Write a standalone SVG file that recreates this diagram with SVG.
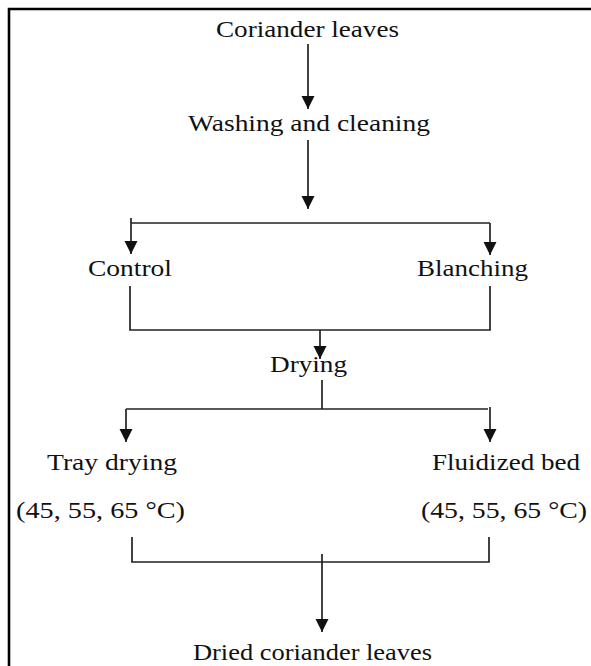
<svg xmlns="http://www.w3.org/2000/svg" width="591" height="666" viewBox="0 0 591 666">
<defs>
<marker id="ah" markerUnits="userSpaceOnUse" markerWidth="14" markerHeight="14" viewBox="0 0 14 14" refX="13" refY="7" orient="auto">
<path d="M0,0.5 L13,7 L0,13.5 Z" fill="#111"/>
</marker>
<style>
.t{font-family:"Liberation Serif","Times New Roman",serif;font-size:24px;fill:#111;}
.c{fill:none;stroke:#222;stroke-width:1.7;}
.a{fill:none;stroke:#222;stroke-width:1.7;marker-end:url(#ah);}
</style>
</defs>
<rect x="0" y="0" width="591" height="666" fill="#ffffff"/>
<path d="M9,666 V9 H591" fill="none" stroke="#000" stroke-width="2.6"/>
<g id="n-coriander"><text class="t" x="216" y="37" textLength="183" lengthAdjust="spacingAndGlyphs">Coriander leaves</text></g>
<g id="n-washing"><text class="t" x="188" y="131" textLength="242" lengthAdjust="spacingAndGlyphs">Washing and cleaning</text></g>
<g id="n-control"><text class="t" x="88" y="276" textLength="84" lengthAdjust="spacingAndGlyphs">Control</text></g>
<g id="n-blanching"><text class="t" x="417" y="276" textLength="111" lengthAdjust="spacingAndGlyphs">Blanching</text></g>
<g id="n-drying"><text class="t" x="270" y="372" textLength="77" lengthAdjust="spacingAndGlyphs">Drying</text></g>
<g id="n-tray"><text class="t" x="47" y="470" textLength="130" lengthAdjust="spacingAndGlyphs">Tray drying</text><text class="t" x="16" y="518" textLength="169" lengthAdjust="spacingAndGlyphs">(45, 55, 65 °C)</text></g>
<g id="n-fluid"><text class="t" x="432" y="470" textLength="148" lengthAdjust="spacingAndGlyphs">Fluidized bed</text><text class="t" x="421" y="518" textLength="166" lengthAdjust="spacingAndGlyphs">(45, 55, 65 °C)</text></g>
<g id="n-dried"><text class="t" x="193" y="660" textLength="239" lengthAdjust="spacingAndGlyphs">Dried coriander leaves</text></g>
<g id="connectors">
<path class="a" d="M308,44 V109"/>
<path class="a" d="M308,140 V209"/>
<path class="c" d="M131,223 H490"/>
<path class="a" d="M131,218 V254"/>
<path class="a" d="M490,223 V255"/>
<path class="c" d="M130,286 V330 H490 V286"/>
<path class="a" d="M320,330 V359"/>
<path class="c" d="M322,380 V409"/>
<path class="c" d="M126,409 H488"/>
<path class="a" d="M126,409 V442"/>
<path class="a" d="M490,407 V442"/>
<path class="c" d="M132,537 V562 H489 V537"/>
<path class="a" d="M322,554 V632"/>
</g>
</svg>
